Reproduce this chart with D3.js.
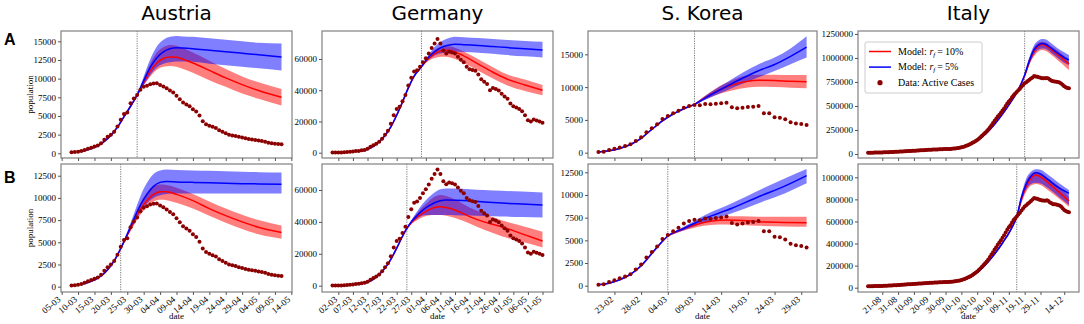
<!DOCTYPE html>
<html>
<head>
<meta charset="utf-8">
<script src="https://cdn.jsdelivr.net/npm/d3@7"></script>
<style>
body{margin:0;background:#fff;}
</style>
</head>
<body>
<svg id="chart" width="1084" height="324"></svg>
<script>
const YEAR = "2020";

// ---- Austria ----
const austriaStart = "08-03";
const austriaCases = [130, 170, 220, 300, 450, 600, 750, 900, 1030, 1340,
  1800, 2200, 2500, 2900, 3600, 4500, 5250, 5450, 6700, 7350,
  7800, 8500, 8900, 9050, 9250, 9350, 9370, 9150, 8950, 8700,
  8400, 8150, 7700, 7250, 6800, 6550, 6300, 5900, 5600, 5050,
  4300, 3900, 3700, 3550, 3400, 3100, 2900, 2700, 2500, 2400,
  2320, 2200, 2100, 2000, 1900, 1850, 1780, 1700, 1640, 1560,
  1420, 1340, 1280, 1240, 1200];
const austriaTicks = ["05-03","10-03","15-03","20-03","25-03","30-03","04-04","09-04","14-04","19-04","24-04","29-04","04-05","09-05","14-05"];
const austriaCut = [20, 15];
const austriaYTicksA = [0, 2500, 5000, 7500, 10000, 12500, 15000];
const austriaYTicksB = [0, 2500, 5000, 7500, 10000, 12500];
const austriaYDomain = [[-630, 16380], [-600, 13820]];
// model rows: [day, low, mid, high]
const austriaFitA = [[2,230],[4,380],[6,620],[8,1000],[10,1600],[12,2400],[14,3500],[16,4900],[18,6300],[20,7800]];
const austriaRedA = [[20,7750,7800,7850],[22,9100,9500,10000],[24,10300,11000,12000],[26,11200,12100,13500],[28,11600,12700,14200],[30,11700,12900,14500],[32,11600,12850,14400],[34,11300,12600,14100],[37,10800,12100,13500],[42,9800,11100,12400],[47,8900,10100,11300],[52,8000,9200,10300],[57,7300,8400,9500],[64,6400,7500,8600]];
const austriaBlueA = [[20,7750,7800,7850],[22,9100,9700,10300],[24,10500,11500,12600],[26,11500,12800,14300],[28,12000,13600,15200],[30,12200,14000,15600],[32,12300,14150,15700],[34,12300,14100,15650],[37,12250,14000,15600],[42,12000,13800,15400],[47,11800,13600,15200],[52,11600,13400,15000],[57,11400,13200,14800],[64,11100,12900,14700]];
const austriaFitB = [[3,300],[5,480],[7,780],[9,1200],[11,1900],[13,2900],[15,4300]];
const austriaRedB = [[15,4250,4300,4350],[17,5600,5800,6000],[19,6900,7300,7800],[21,8100,8700,9400],[23,9000,9700,10600],[25,9600,10400,11300],[27,9800,10700,11500],[29,9750,10700,11450],[32,9450,10400,11150],[37,8800,9700,10450],[42,8000,8800,9600],[47,7200,8000,8800],[52,6500,7300,8100],[57,5900,6700,7500],[64,5400,6100,6900]];
const austriaBlueB = [[15,4250,4300,4350],[17,5700,5900,6200],[19,7100,7600,8200],[21,8400,9200,10200],[23,9400,10400,11700],[25,10000,11300,12700],[27,10300,11750,13100],[29,10450,11850,13200],[32,10500,11800,13150],[37,10500,11750,13100],[42,10500,11700,13050],[47,10500,11650,13000],[52,10500,11600,12950],[57,10500,11580,12900],[64,10500,11550,12850]];

// ---- Germany ----
const germanyStart = "29-02";
const germanyCases = [60, 100, 150, 180, 250, 400, 650, 800, 1050, 1150,
  1500, 1800, 2500, 3800, 4800, 5800, 7000, 9000, 11500, 14000,
  18500, 24000, 28000, 29500, 33000, 37000, 43000, 48000, 52000, 52800,
  55000, 58000, 60500, 63500, 67000, 70000, 72800, 70000, 65500, 63600,
  64700, 64200, 63500, 61500, 59500, 58000, 55000, 53500, 53000, 52500,
  50000, 47000, 45500, 44000, 40000, 41500, 40800, 39800, 37800, 36000,
  34500, 31500, 29800, 29000, 28000, 26500, 24000, 20800, 20000, 21300,
  20600, 20000, 19200];
const germanyTicks = ["02-03","07-03","12-03","17-03","22-03","27-03","01-04","06-04","11-04","16-04","21-04","26-04","01-05","06-05","11-05"];
const germanyCut = [30.5, 25.5];
const germanyYTicksA = [0, 20000, 40000, 60000];
const germanyYTicksB = [0, 20000, 40000, 60000];
const germanyYDomain = [[-3390, 77930], [-3950, 76300]];
const germanyFitA = [[8,900],[10,1300],[12,2200],[14,4000],[16,7000],[18,11000],[20,16500],[22,24000],[24,32500],[26,41500],[28,49000],[30.5,55000]];
const germanyRedA = [[30.5,54500,55000,55500],[32,57500,58500,59500],[34,60000,62000,64000],[36,61200,64500,67000],[38,61500,65500,68000],[40,61200,65600,68100],[42,60000,64500,67200],[45,57500,62000,64800],[50,52500,56700,59800],[55,47500,51500,54700],[60,43000,47000,50000],[66,39500,43400,46800],[72,36800,40000,43300]];
const germanyBlueA = [[30.5,54500,55000,55500],[32,58000,59000,60000],[34,61000,63000,65500],[36,63000,66000,69500],[38,64000,68000,72000],[40,64500,69000,73500],[42,64700,69400,74300],[45,64500,69200,74000],[50,64000,68700,73400],[55,63300,68000,72800],[60,62500,67300,72200],[66,61700,66500,71600],[72,61000,65800,71100]];
const germanyFitB = [[8,900],[10,1300],[12,2200],[14,4000],[16,7000],[18,11000],[20,16500],[22,23500],[24,31000],[25.5,35900]];
const germanyRedB = [[25.5,35400,35900,36400],[27,38500,39500,40500],[29,41000,43000,45500],[31,43000,45500,49500],[33,44000,47500,53000],[35,44300,49000,55700],[37,44300,49500,56800],[39,43800,49000,56300],[42,42500,47500,54000],[47,39000,43300,49000],[52,35000,40000,45000],[58,31000,37000,41000],[65,27500,32500,37500],[72,24000,28000,33900]];
const germanyBlueB = [[25.5,35400,35900,36400],[27,39000,40000,41000],[29,42000,44000,46500],[31,44000,47400,51500],[33,44300,50000,55500],[35,44300,52000,58500],[37,44300,53300,60500],[39,44300,53700,61000],[42,44200,53600,60900],[47,44000,53200,60500],[52,43700,52500,60000],[58,43400,51800,59500],[65,43100,51200,59000],[72,42800,50600,58500]];

// ---- S. Korea ----
const koreaStart = "20-02";
const koreaCases = [100, 150, 400, 600, 810, 1020, 1270, 1780, 2340, 3100,
  3710, 4320, 5140, 5590, 6000, 6400, 6860, 7120, 7270, 7220,
  7420, 7370, 7470, 7530, 7630, 6920, 6760, 6860, 6970, 7020,
  7120, 6000, 6000, 5390, 5340, 5090, 4630, 4470, 4370, 4220];
const koreaTicks = ["23-02","28-02","04-03","09-03","14-03","19-03","24-03","29-03"];
const koreaCut = [18, 13];
const koreaYTicksA = [0, 5000, 10000, 15000];
const koreaYTicksB = [0, 2500, 5000, 7500, 10000, 12500];
const koreaYDomain = [[-810, 18560], [-694, 13415]];
const koreaFitA = [[0,100],[2,280],[4,650],[6,1250],[8,2200],[10,3550],[12,4850],[14,5900],[16,6700],[18,7370]];
const koreaRedA = [[18,7300,7370,7450],[20,8100,8400,8700],[22,8800,9300,9800],[25,9500,10300,11000],[28,9950,10900,11800],[30,10050,11050,11900],[33,10000,11000,11900],[36,9900,10900,11850],[39,9810,10830,11850]];
const koreaBlueA = [[18,7300,7370,7450],[21,8400,8800,9200],[24,9500,10100,10700],[27,10500,11350,12200],[30,11500,12500,13500],[33,12450,13450,14500],[36,13500,14700,15900],[39,14500,16100,17750]];
const koreaFitB = [[0,100],[2,280],[4,650],[6,1250],[8,2200],[10,3550],[12,4900],[13,5480]];
const koreaRedB = [[13,5420,5480,5540],[15,5900,6050,6200],[18,6400,6690,6950],[21,6700,7100,7450],[24,6750,7230,7650],[27,6700,7200,7650],[30,6600,7060,7600],[35,6520,6970,7600],[39,6500,6950,7600]];
const koreaBlueB = [[13,5420,5480,5540],[16,6100,6300,6500],[20,7000,7430,7800],[25,7980,8530,9080],[30,9100,9810,10500],[35,10200,11000,11850],[39,11290,12130,12870]];

// ---- Italy ----
const italyStart = "12-08";
const italyCases = [13000, 13400, 13800, 14100, 14400, 14600, 15100, 15600, 16000, 16400,
  17000, 17600, 18100, 18800, 19600, 20400, 21300, 22100, 22900, 23800,
  24800, 26000, 27000, 28000, 29000, 30100, 31200, 32000, 33000, 34000,
  35000, 36000, 37000, 38000, 39000, 40000, 41000, 42000, 43000, 44000,
  45000, 45800, 46500, 47200, 47900, 48600, 49300, 50000, 50800, 51300,
  51500, 52000, 53000, 54500, 56000, 58000, 60000, 62500, 65500, 69500,
  74000, 79000, 85000, 92000, 100000, 107000, 116000, 126000, 135000, 146000,
  160000, 175000, 190000, 205000, 222000, 237000, 256000, 277000, 300000, 322000,
  345000, 367000, 390000, 410000, 430000, 452000, 475000, 500000, 525000, 548000,
  565000, 590000, 613000, 630000, 645000, 663000, 680000, 700000, 718000, 736000,
  748000, 760000, 772000, 785000, 798000, 812000, 808000, 805000, 800000, 795000,
  790000, 790000, 788000, 792000, 785000, 772000, 764000, 757000, 755000, 753000,
  750000, 745000, 735000, 720000, 705000, 694000, 688000, 684000];
const italyTicks = ["21-08","31-08","10-09","20-09","30-09","10-10","20-10","30-10","09-11","19-11","29-11","14-12"];
const italyCut = [99, 94];
const italyYTicksA = [0, 250000, 500000, 750000, 1000000, 1250000];
const italyYTicksB = [0, 200000, 400000, 600000, 800000, 1000000];
const italyYDomain = [[-41700, 1281000], [-39000, 1120600]];
const italyFitA = [[0,13000],[20,25000],[40,43000],[50,51500],[58,62000],[64,90000],[70,150000],[75,220000],[80,310000],[85,415000],[90,535000],[95,670000],[99,815000]];
const italyRedA = [[99,800000,815000,830000],[102,930000,960000,990000],[105,1020000,1070000,1110000],[108,1070000,1125000,1160000],[110,1083000,1140000,1170000],[112,1075000,1130000,1165000],[116,1030000,1085000,1120000],[120,975000,1035000,1075000],[124,920000,980000,1020000],[127,875000,937000,962000]];
const italyBlueA = [[99,810000,823000,840000],[102,940000,975000,1010000],[105,1040000,1090000,1135000],[108,1090000,1140000,1185000],[110,1100000,1152000,1198000],[112,1095000,1145000,1195000],[116,1050000,1100000,1150000],[120,1000000,1050000,1100000],[124,950000,1005000,1060000],[127,927000,979000,1031000]];
const italyFitB = [[0,13000],[20,25000],[40,43000],[50,51500],[58,62000],[64,90000],[70,150000],[75,220000],[80,305000],[85,405000],[90,520000],[94,643000]];
const italyRedB = [[94,635000,643000,651000],[97,770000,800000,830000],[100,870000,920000,965000],[103,925000,990000,1030000],[106,940000,1021000,1051000],[109,930000,1005000,1040000],[114,880000,950000,990000],[120,815000,875000,925000],[127,734000,785000,825000]];
const italyBlueB = [[94,635000,643000,651000],[97,790000,820000,850000],[100,890000,940000,990000],[103,940000,1010000,1050000],[106,951000,1042000,1072000],[109,945000,1030000,1068000],[114,900000,976000,1020000],[120,830000,910000,955000],[127,749000,855000,885000]];

const legendLabels = ["10%", "5%", "Data: Active Cases"];

// panel table built from the arrays above
const panels = [
  {name: "Austria", start: austriaStart, cases: austriaCases, ticks: austriaTicks,
   rows: [{cut: austriaCut[0], fit: austriaFitA, red: austriaRedA, blue: austriaBlueA, yDom: austriaYDomain[0], yTicks: austriaYTicksA},
          {cut: austriaCut[1], fit: austriaFitB, red: austriaRedB, blue: austriaBlueB, yDom: austriaYDomain[1], yTicks: austriaYTicksB}]},
  {name: "Germany", start: germanyStart, cases: germanyCases, ticks: germanyTicks,
   rows: [{cut: germanyCut[0], fit: germanyFitA, red: germanyRedA, blue: germanyBlueA, yDom: germanyYDomain[0], yTicks: germanyYTicksA},
          {cut: germanyCut[1], fit: germanyFitB, red: germanyRedB, blue: germanyBlueB, yDom: germanyYDomain[1], yTicks: germanyYTicksB}]},
  {name: "S. Korea", start: koreaStart, cases: koreaCases, ticks: koreaTicks,
   rows: [{cut: koreaCut[0], fit: koreaFitA, red: koreaRedA, blue: koreaBlueA, yDom: koreaYDomain[0], yTicks: koreaYTicksA},
          {cut: koreaCut[1], fit: koreaFitB, red: koreaRedB, blue: koreaBlueB, yDom: koreaYDomain[1], yTicks: koreaYTicksB}]},
  {name: "Italy", start: italyStart, cases: italyCases, ticks: italyTicks,
   rows: [{cut: italyCut[0], fit: italyFitA, red: italyRedA, blue: italyBlueA, yDom: italyYDomain[0], yTicks: italyYTicksA},
          {cut: italyCut[1], fit: italyFitB, red: italyRedB, blue: italyBlueB, yDom: italyYDomain[1], yTicks: italyYTicksB}]}
];

// layout
const colX = [[61, 292], [322, 553], [588, 817], [858, 1079]];
const rowY = [[31, 158], [164, 292]];
const serif = "'Liberation Serif','Times New Roman',serif";
const sans = "'DejaVu Sans',sans-serif";

const svg = d3.select("#chart");
const parseDay = d3.utcParse("%d-%m-%Y");
const toDate = (start, i) => new Date(parseDay(start + "-" + YEAR).getTime() + i * 864e5);

panels.forEach(function(p, ci) {
  const [x0, x1] = colX[ci];
  const first = toDate(p.start, 0), last = toDate(p.start, p.cases.length - 1);
  const pad = (last - first) * 0.05;
  const x = d3.scaleUtc()
      .domain([+first - pad, +last + pad])
      .range([x0, x1]);

  svg.append("text")
      .attr("x", (x0 + x1) / 2)
      .attr("y", 20)
      .attr("text-anchor", "middle")
      .style("font-family", sans)
      .style("font-size", "20px")
      .text(p.name);

  p.rows.forEach(function(r, ri) {
    const [y0, y1] = rowY[ri];
    const y = d3.scaleLinear().domain(r.yDom).range([y1, y0]);
    const g = svg.append("g");

    const xd = d => x(toDate(p.start, d[0]));
    const area = d3.area().curve(d3.curveMonotoneX)
        .x(xd).y0(d => y(d[1])).y1(d => y(d[3]));
    const line = d3.line().curve(d3.curveMonotoneX)
        .x(xd).y(d => y(d[1]));

    // cutoff
    const cx = x(toDate(p.start, r.cut));
    g.append("line")
        .attr("x1", cx).attr("x2", cx)
        .attr("y1", y0).attr("y2", y1)
        .style("stroke", "#777")
        .style("stroke-width", 1)
        .style("stroke-dasharray", "1.2,1.2");

    g.append("path").datum(r.red).attr("d", area)
        .style("fill", "#ff0000").style("fill-opacity", 0.5);
    g.append("path").datum(r.blue).attr("d", area)
        .style("fill", "#0000ff").style("fill-opacity", 0.5);

    const redMid = r.fit.slice(0, -1).concat(r.red.map(d => [d[0], d[2]]));
    const blueMid = r.fit.slice(0, -1).concat(r.blue.map(d => [d[0], d[2]]));
    g.append("path").datum(redMid).attr("d", line)
        .style("fill", "none").style("stroke", "#ff0000").style("stroke-width", "1.5px");
    g.append("path").datum(blueMid).attr("d", line)
        .style("fill", "none").style("stroke", "#0000ff").style("stroke-width", "1.5px");

    g.selectAll("circle.pt")
        .data(p.cases)
        .join("circle")
        .attr("class", "pt")
        .attr("cx", (d, i) => x(toDate(p.start, i)))
        .attr("cy", d => y(d))
        .attr("r", 2)
        .style("fill", "#8b0000");

    // frame
    g.append("rect")
        .attr("x", x0).attr("y", y0)
        .attr("width", x1 - x0).attr("height", y1 - y0)
        .style("fill", "none").style("stroke", "#808080").style("stroke-width", 1.2);

    // y axis
    const ya = g.append("g")
        .attr("transform", "translate(" + x0 + ",0)")
        .call(d3.axisLeft(y).tickValues(r.yTicks).tickSize(3).tickPadding(2).tickFormat(d3.format("d")));
    ya.select(".domain").remove();
    ya.selectAll("line").style("stroke", "#555");
    ya.selectAll("text").style("font-family", serif).style("font-size", "9px").style("fill", "#000");

    // x axis
    const xa = g.append("g")
        .attr("transform", "translate(0," + y1 + ")")
        .call(d3.axisBottom(x)
          .tickValues(p.ticks.map(t => parseDay(t + "-" + YEAR)))
          .tickSize(3)
          .tickFormat(ri === 1 ? d3.utcFormat("%d-%m") : () => ""));
    xa.select(".domain").remove();
    xa.selectAll("line").style("stroke", "#555");
    xa.selectAll("text")
        .attr("x", 0).attr("y", 0).attr("dy", "0.35em")
        .attr("text-anchor", "end")
        .attr("transform", "translate(-3,6) rotate(-40)")
        .style("font-family", serif).style("font-size", "9px").style("fill", "#000");

    if (ri === 1) {
      svg.append("text")
          .attr("x", (x0 + x1) / 2).attr("y", 319)
          .attr("text-anchor", "middle")
          .style("font-family", serif).style("font-size", "9px")
          .text("date");
    }
    if (ci === 0) {
      svg.append("text")
          .attr("transform", "translate(33," + (y0 + y1) / 2 + ") rotate(-90)")
          .attr("text-anchor", "middle")
          .style("font-family", serif).style("font-size", "9px")
          .text("population");
    }
  });
});

// row letters
svg.append("text").attr("x", 4).attr("y", 45)
    .style("font-family", "'Liberation Sans',Arial,sans-serif").style("font-weight", "bold").style("font-size", "16px")
    .text("A");
svg.append("text").attr("x", 4).attr("y", 183)
    .style("font-family", "'Liberation Sans',Arial,sans-serif").style("font-weight", "bold").style("font-size", "16px")
    .text("B");

// legend (Italy, row A)
const lg = svg.append("g").attr("transform", "translate(865,42)");
lg.append("rect")
    .attr("width", 117).attr("height", 51).attr("rx", 2)
    .style("fill", "#fff").style("fill-opacity", 0.85)
    .style("stroke", "#ccc").style("stroke-width", 1);
const legendColors = ["#ff0000", "#0000ff"];
[0, 1].forEach(function(i) {
  const yy = 9.5 + i * 15.6;
  lg.append("line").attr("x1", 4).attr("x2", 26).attr("y1", yy).attr("y2", yy)
      .style("stroke", legendColors[i]).style("stroke-width", 1.5);
  const t = lg.append("text").attr("x", 33).attr("y", yy + 3.3)
      .style("font-family", serif).style("font-size", "10px");
  t.append("tspan").text("Model: ");
  t.append("tspan").style("font-style", "italic").text("r");
  t.append("tspan").style("font-style", "italic").style("font-size", "7px").attr("dy", 2).text("f");
  t.append("tspan").attr("dy", -2).text("\u2009=\u2009" + legendLabels[i]);
});
lg.append("circle").attr("cx", 15).attr("cy", 9.5 + 2 * 15.6).attr("r", 2.6).style("fill", "#8b0000");
lg.append("text").attr("x", 33).attr("y", 9.5 + 2 * 15.6 + 3.3)
    .style("font-family", serif).style("font-size", "10px")
    .text(legendLabels[2]);
</script>
</body>
</html>
